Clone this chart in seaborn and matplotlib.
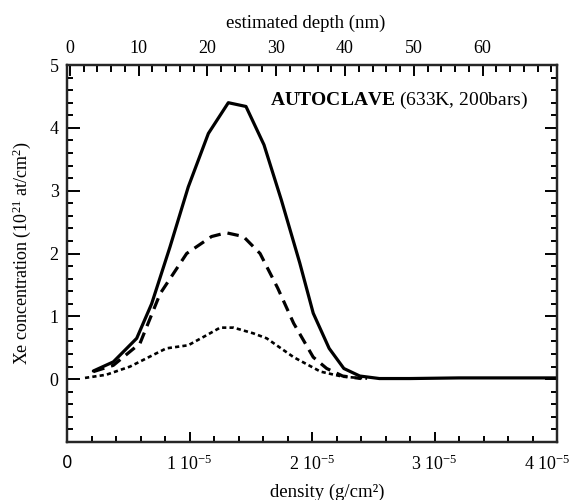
import matplotlib
matplotlib.use("Agg")
import matplotlib.pyplot as plt
import matplotlib.transforms as mtransforms
import seaborn as sns
import pandas as pd
import numpy as np
from matplotlib.ticker import MultipleLocator, FixedLocator, FixedFormatter

# ---- data (density in units of 1e-5 g/cm2, concentration in 1e21 at/cm2) ----
solid_x = [0.215, 0.378, 0.569, 0.691, 0.84, 0.99, 1.154, 1.317, 1.461, 1.608, 1.75, 1.90, 2.01, 2.14, 2.26, 2.39, 2.55, 2.8, 3.2, 3.6, 4.0]
solid_y = [0.13, 0.275, 0.65, 1.2, 2.1, 3.06, 3.91, 4.40, 4.34, 3.73, 2.85, 1.85, 1.05, 0.49, 0.17, 0.05, 0.01, 0.01, 0.02, 0.02, 0.02]

dash_x = [0.215, 0.378, 0.596, 0.76, 0.977, 1.18, 1.30, 1.44, 1.576, 1.72, 1.85, 2.01, 2.12, 2.25, 2.4]
dash_y = [0.12, 0.22, 0.57, 1.36, 2.0, 2.27, 2.33, 2.27, 2.0, 1.45, 0.89, 0.35, 0.17, 0.05, 0.01]

dot_x = [0.147, 0.32, 0.514, 0.81, 0.99, 1.14, 1.25, 1.36, 1.52, 1.63, 1.85, 2.07, 2.25, 2.45]
dot_y = [0.02, 0.07, 0.20, 0.49, 0.54, 0.70, 0.82, 0.82, 0.73, 0.65, 0.35, 0.12, 0.04, 0.01]

x_ticks = [0, 1, 2, 3, 4]
x_tick_labels = ["0", "1 10$^{-5}$", "2 10$^{-5}$", "3 10$^{-5}$", "4 10$^{-5}$"]
y_ticks = [0, 1, 2, 3, 4, 5]
depth_ticks = [0, 10, 20, 30, 40, 50, 60]

sns.set_theme(style="white")
plt.rcParams["font.family"] = ["Liberation Serif", "DejaVu Serif"]
plt.rcParams["mathtext.fontset"] = "custom"
plt.rcParams["mathtext.rm"] = "Liberation Serif"
plt.rcParams["mathtext.it"] = "Liberation Serif:italic"
plt.rcParams["mathtext.bf"] = "Liberation Serif:bold"

fig = plt.figure(figsize=(5.72, 5.0), dpi=100)
ax = fig.add_axes([67/572, 1-442/500, (557-67)/572, (442-65)/500])

df_s = pd.DataFrame({"x": solid_x, "y": solid_y})
df_d = pd.DataFrame({"x": dash_x, "y": dash_y})
df_o = pd.DataFrame({"x": dot_x, "y": dot_y})

lw = 2.3
sns.lineplot(data=df_o, x="x", y="y", ax=ax, color="black", lw=1.9,
             linestyle=(0, (1.6, 1.2)), estimator=None, sort=False)
sns.lineplot(data=df_d, x="x", y="y", ax=ax, color="black", lw=lw,
             linestyle=(0, (3.6, 2.2)), estimator=None, sort=False)
sns.lineplot(data=df_s, x="x", y="y", ax=ax, color="black", lw=lw,
             estimator=None, sort=False)

ax.set_xlim(0, 4)
ax.set_ylim(-1, 5)
ax.xaxis.set_major_locator(FixedLocator(x_ticks))
ax.xaxis.set_major_formatter(FixedFormatter(x_tick_labels))
ax.xaxis.set_minor_locator(MultipleLocator(0.2))
ax.yaxis.set_major_locator(FixedLocator(y_ticks))
ax.yaxis.set_minor_locator(MultipleLocator(0.2))
ax.set_yticklabels([str(v) for v in y_ticks])

for sp in ax.spines.values():
    sp.set_linewidth(1.6)
    sp.set_color("black")

ax.tick_params(which="both", direction="in", color="black", width=1.4,
               left=True, right=True, bottom=True, top=False,
               labelsize=13, labelcolor="black", pad=8)
ax.tick_params(which="major", length=7)
ax.tick_params(which="minor", length=4)
ax.tick_params(axis="y", which="major", length=9)
ax.tick_params(axis="y", pad=6)
ax.tick_params(axis="x", pad=9)
xl = ax.get_xticklabels()
# the "0" label in a sans-serif face, as in the reference
xl[0].set_family("DejaVu Sans")
xl[0].set_fontsize(12)
# last label kept inside the figure
xl[-1].set_horizontalalignment("right")
xl[-1].set_transform(xl[-1].get_transform() +
                     mtransforms.ScaledTranslation(14/100, 0, fig.dpi_scale_trans))

ax.set_xlabel("density (g/cm²)", fontsize=13.5, color="black")
ax.xaxis.set_label_coords(0.531, -0.111)
ax.set_ylabel("Xe concentration (10$^{21}$ at/cm$^{2}$)", fontsize=13,
              color="black", labelpad=12)
ax.grid(False)

# top axis: estimated depth
ax2 = ax.twiny()
ax2.set_xlim(-0.4, 70.8)
ax2.xaxis.set_major_locator(FixedLocator(depth_ticks))
ax2.xaxis.set_minor_locator(MultipleLocator(2))
ax2.tick_params(which="both", direction="in", color="black", width=1.4,
                top=True, bottom=False, labelsize=13, labelcolor="black", pad=6)
ax2.tick_params(which="major", length=8)
ax2.tick_params(which="minor", length=5)
ax2.set_xlabel("estimated depth (nm)", fontsize=13.5, color="black")
ax2.xaxis.set_label_coords(0.488, 1.098)
for sp in ax2.spines.values():
    sp.set_linewidth(1.6)
ax2.grid(False)

ax.text(0.941, 0.907, r"$\mathbf{AUTOCLAVE}$ (633K, 200bars)", transform=ax.transAxes,
        ha="right", va="center", fontsize=14, color="black")

fig.savefig("out.png", dpi=100)
